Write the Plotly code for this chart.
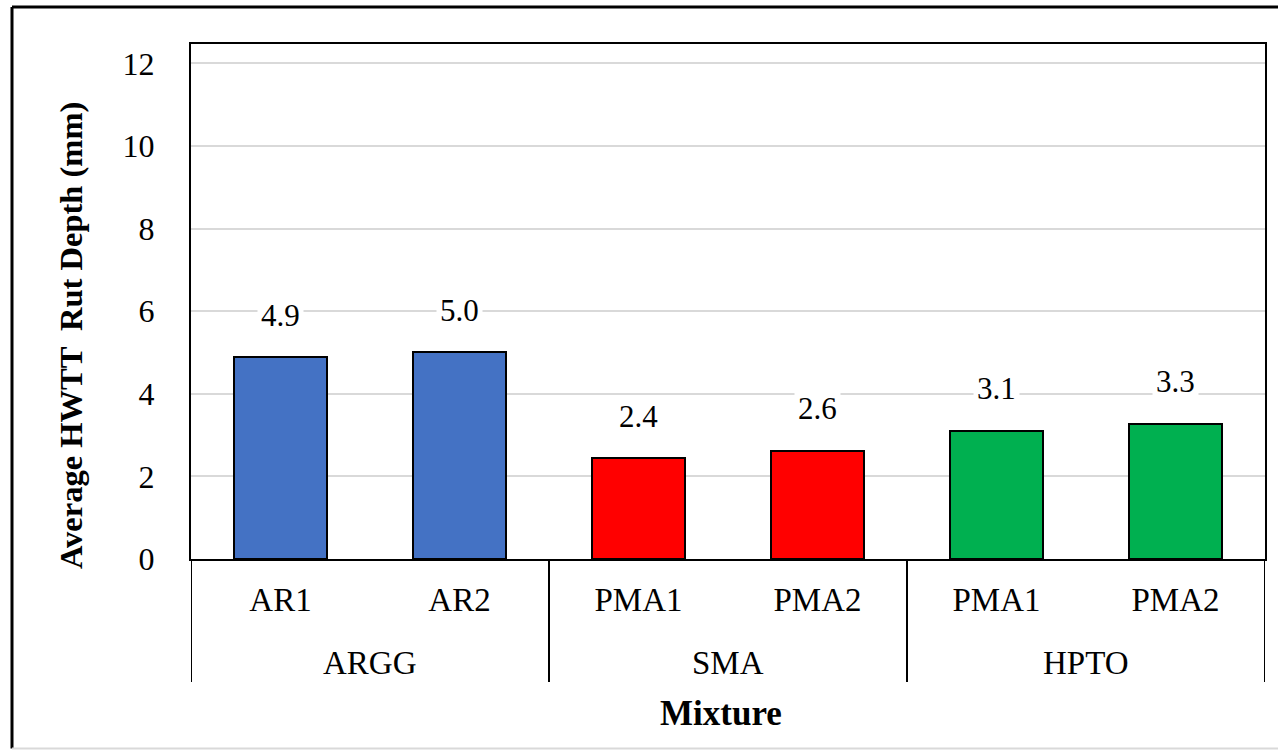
import plotly.graph_objects as go

# ---- data ----
groups = ["ARGG", "ARGG", "SMA", "SMA", "HPTO", "HPTO"]
sub_labels = ["AR1", "AR2", "PMA1", "PMA2", "PMA1", "PMA2"]
rut_depth = [4.89, 5.01, 2.44, 2.62, 3.10, 3.28]
group_names = ["ARGG", "SMA", "HPTO"]
bar_colors = ["#4472C4", "#4472C4", "#FF0000", "#FF0000", "#00B050", "#00B050"]
y_ticks = [0, 2, 4, 6, 8, 10, 12]

W, H = 1278, 750
L, R, T, B = 191, 13, 44, 191
FONT = "Liberation Serif, Times New Roman, serif"

pw = W - L - R
ph = H - T - B


def px_x(px):
    return (px - L) / pw


def px_y(py):
    return (H - B - py) / ph


xpos = list(range(len(sub_labels)))

fig = go.Figure()
fig.add_trace(go.Bar(
    x=xpos, y=rut_depth, width=0.515,
    marker=dict(color=bar_colors, line=dict(color="black", width=2)),
    showlegend=False, hoverinfo="skip",
))

# data labels
for xi, v in zip(xpos, rut_depth):
    fig.add_annotation(x=xi, y=v, xref="x", yref="y", text=f"{v:.1f}",
                       showarrow=False, yshift=42, bgcolor="white",
                       font=dict(family=FONT, size=31, color="black"),
                       borderpad=3)

# group labels & dividers
bounds = []
start = 0
for gname in group_names:
    n = groups.count(gname)
    center = start + (n - 1) / 2
    fig.add_annotation(x=center, y=px_y(663), xref="x", yref="paper",
                       text=gname, showarrow=False, yanchor="middle",
                       font=dict(family=FONT, size=33, color="black"))
    bounds.append(start - 0.5)
    start += n
bounds.append(start - 0.5)
for b in bounds:
    fig.add_shape(type="line", xref="x", yref="paper", x0=b, x1=b,
                  y0=0, y1=px_y(682), line=dict(color="black", width=2))

# axis titles
fig.add_annotation(x=px_x(721), y=px_y(713), xref="paper", yref="paper",
                   text="<b>Mixture</b>", showarrow=False, yanchor="middle",
                   font=dict(family=FONT, size=35, color="black"))
fig.add_annotation(x=px_x(71), y=px_y(336), xref="paper", yref="paper",
                   text="<b>Average HWTT  Rut Depth (mm)</b>", showarrow=False,
                   textangle=-90, xanchor="center", yanchor="middle",
                   font=dict(family=FONT, size=32.5, color="black"))

# outer frame
fig.add_shape(type="line", xref="paper", yref="paper",
              x0=px_x(12), x1=px_x(1290), y0=px_y(7), y1=px_y(7),
              line=dict(color="black", width=3))
fig.add_shape(type="line", xref="paper", yref="paper",
              x0=px_x(12), x1=px_x(12), y0=px_y(7), y1=px_y(748.5),
              line=dict(color="black", width=3))
fig.add_shape(type="line", xref="paper", yref="paper",
              x0=px_x(12), x1=px_x(1290), y0=px_y(748.5), y1=px_y(748.5),
              line=dict(color="#d9d9d9", width=2))

fig.update_layout(
    width=W, height=H,
    margin=dict(l=L, r=R, t=T, b=B),
    paper_bgcolor="white", plot_bgcolor="white",
    font=dict(family=FONT, size=33, color="black"),
    bargap=0.0,
    xaxis=dict(
        range=[-0.5, len(sub_labels) - 0.5],
        tickmode="array", tickvals=xpos, ticktext=sub_labels,
        showgrid=False, zeroline=False,
        showline=True, linecolor="black", linewidth=2, mirror=True,
        ticks="", ticklabelstandoff=10,
        tickfont=dict(family=FONT, size=33, color="black"),
    ),
    yaxis=dict(
        range=[0, 12.47],
        tickmode="array", tickvals=y_ticks,
        showgrid=True, gridcolor="#d9d9d9", gridwidth=2,
        zeroline=False,
        showline=True, linecolor="black", linewidth=2, mirror=True,
        ticks="", ticklabelstandoff=28,
        tickfont=dict(family=FONT, size=32, color="black"),
    ),
)

fig.write_html("out.html", config={"displayModeBar": False},
               post_script="document.body.style.margin='0';document.body.style.overflow='hidden';")
